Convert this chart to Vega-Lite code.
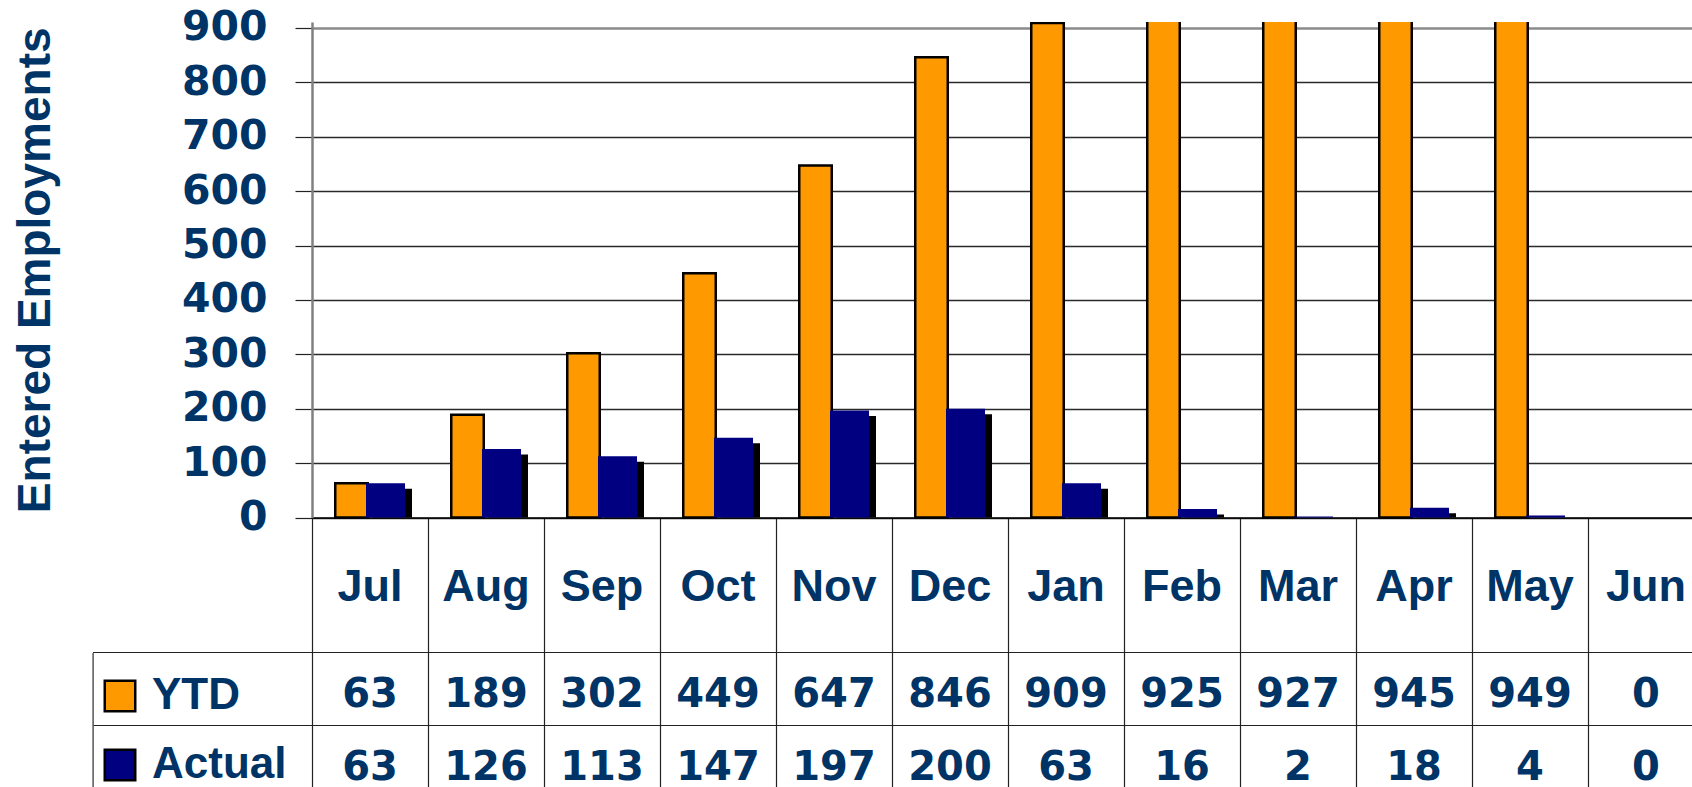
{
  "$schema": "https://vega.github.io/schema/vega-lite/v6.json",
  "width": 1380,
  "height": 765,
  "autosize": "none",
  "padding": {"left": 312, "top": 22, "right": 0, "bottom": 0},
  "background": "white",
  "config": {"view": {"stroke": null}},
  "data": {"values": [
    {"month": "Jul", "series": "YTD", "value": 63},
    {"month": "Aug", "series": "YTD", "value": 189},
    {"month": "Sep", "series": "YTD", "value": 302},
    {"month": "Oct", "series": "YTD", "value": 449},
    {"month": "Nov", "series": "YTD", "value": 647},
    {"month": "Dec", "series": "YTD", "value": 846},
    {"month": "Jan", "series": "YTD", "value": 909},
    {"month": "Feb", "series": "YTD", "value": 925},
    {"month": "Mar", "series": "YTD", "value": 927},
    {"month": "Apr", "series": "YTD", "value": 945},
    {"month": "May", "series": "YTD", "value": 949},
    {"month": "Jun", "series": "YTD", "value": 0},
    {"month": "Jul", "series": "Actual", "value": 63},
    {"month": "Aug", "series": "Actual", "value": 126},
    {"month": "Sep", "series": "Actual", "value": 113},
    {"month": "Oct", "series": "Actual", "value": 147},
    {"month": "Nov", "series": "Actual", "value": 197},
    {"month": "Dec", "series": "Actual", "value": 200},
    {"month": "Jan", "series": "Actual", "value": 63},
    {"month": "Feb", "series": "Actual", "value": 16},
    {"month": "Mar", "series": "Actual", "value": 2},
    {"month": "Apr", "series": "Actual", "value": 18},
    {"month": "May", "series": "Actual", "value": 4},
    {"month": "Jun", "series": "Actual", "value": 0}
  ]},
  "encoding": {
    "x": {
      "field": "month", "type": "nominal",
      "sort": ["Jul","Aug","Sep","Oct","Nov","Dec","Jan","Feb","Mar","Apr","May","Jun"],
      "scale": {"type": "band", "range": [0, 1392], "paddingInner": 0, "paddingOuter": 0},
      "axis": {
        "orient": "bottom", "offset": -269.4, "title": null,
        "domain": true, "domainColor": "#000000", "domainWidth": 1.5,
        "ticks": true, "bandPosition": 0, "tickSize": 269.4, "tickColor": "#222222", "tickWidth": 1.2,
        "labelFont": "Liberation Sans", "labelFontWeight": "bold", "labelFontSize": 45,
        "labelColor": "#003366", "labelBaseline": "alphabetic", "labelPadding": -187,
        "labelAngle": 0, "labelOverlap": false, "grid": false
      }
    }
  },
  "layer": [
    {
      "transform": [{"filter": "datum.series == 'YTD' && datum.value > 0"}],
      "mark": {"type": "bar", "width": 32.5, "xOffset": -18.5, "stroke": "#000000", "strokeWidth": 2.5, "clip": true},
      "encoding": {
        "y": {
          "field": "value", "type": "quantitative",
          "scale": {"domain": [0, 911], "range": [495.6, 0], "nice": false, "zero": true},
          "axis": {
            "orient": "left",
            "title": "Entered Employments",
            "titleFont": "Liberation Sans", "titleFontWeight": "bold", "titleFontSize": 46,
            "titleColor": "#003366", "titlePadding": 122,
            "values": [0, 100, 200, 300, 400, 500, 600, 700, 800, 900],
            "labelFont": "DejaVu Sans", "labelFontWeight": "bold", "labelFontSize": 41,
            "labelColor": "#003366", "labelPadding": 28,
            "tickSize": 17, "tickColor": "#222222", "tickWidth": 1.2,
            "domainColor": "#808080", "domainWidth": 2.5,
            "grid": true,
            "gridColor": {"condition": {"test": "datum.value == 900", "value": "#8a8a8a"}, "value": "#2a2a2a"},
            "gridWidth": {"condition": {"test": "datum.value == 900", "value": 2.5}, "value": 1.3}
          }
        },
        "color": {
          "field": "series", "type": "nominal",
          "scale": {"domain": ["YTD", "Actual"], "range": ["#FF9900", "#000080"]},
          "legend": {
            "orient": "none", "legendX": -214, "legendY": 652, "title": null,
            "direction": "vertical", "padding": 0,
            "symbolType": "square", "symbolSize": 930, "symbolStrokeWidth": 2.5,
            "labelFont": "Liberation Sans", "labelFontWeight": "bold", "labelFontSize": 44,
            "labelColor": "#003366", "labelOffset": 10, "rowPadding": 25,
            "encode": {"symbols": {"update": {
              "stroke": {"signal": "datum.label == 'YTD' ? '#000000' : '#000080'"},
              "strokeWidth": {"value": 2.5}
            }}}
          }
        }
      }
    },
    {
      "transform": [{"filter": "datum.series == 'Actual' && datum.value > 11"}],
      "mark": {"type": "bar", "width": 39, "xOffset": 22.5, "yOffset": 5.5, "y2Offset": 0, "color": "#000000", "clip": true},
      "encoding": {
        "y": {
          "field": "value", "type": "quantitative",
          "scale": {"domain": [0, 911], "range": [495.6, 0], "nice": false, "zero": true},
          "axis": null
        },
        "y2": {"datum": 0}
      }
    },
    {
      "transform": [{"filter": "datum.series == 'Actual'"}],
      "mark": {"type": "bar", "width": 39, "xOffset": 15.5, "color": "#000080", "clip": true},
      "encoding": {
        "y": {
          "field": "value", "type": "quantitative",
          "scale": {"domain": [0, 911], "range": [495.6, 0], "nice": false, "zero": true},
          "axis": null
        },
        "y2": {"datum": 0}
      }
    },
    {
      "mark": {"type": "text", "font": "DejaVu Sans", "fontWeight": "bold", "fontSize": 40, "color": "#003366", "baseline": "middle", "align": "center", "yOffset": 5.5},
      "encoding": {
        "y": {
          "field": "series", "type": "nominal", "sort": ["YTD", "Actual"],
          "scale": {"type": "band", "domain": ["YTD", "Actual"], "range": [630.5, 776.5], "paddingInner": 0, "paddingOuter": 0},
          "axis": {
            "orient": "left", "offset": 219.4, "title": null, "labels": false,
            "domain": true, "domainColor": "#555555", "domainWidth": 1.5,
            "ticks": true, "bandPosition": 0, "tickSize": -219.4, "tickColor": "#222222", "tickWidth": 1.2,
            "grid": true, "gridColor": "#222222", "gridWidth": 1.2
          }
        },
        "text": {"field": "value", "type": "quantitative", "format": "d"}
      }
    }
  ],
  "resolve": {"scale": {"y": "independent"}, "axis": {"y": "independent"}}
}
